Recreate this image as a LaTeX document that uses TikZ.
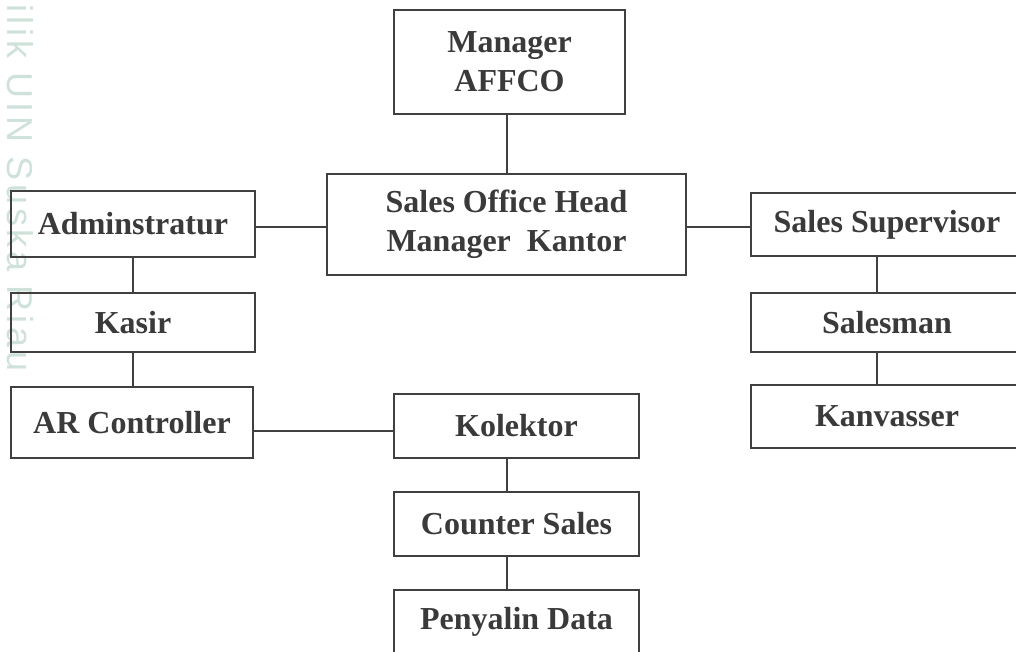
\documentclass[tikz,border=0pt]{standalone}
\usepackage{fontspec}
\setmainfont{Liberation Serif}
\newfontfamily\wmfont[LetterSpace=11]{Liberation Sans}
\definecolor{linecol}{HTML}{404040}
\definecolor{txtcol}{HTML}{3A3A3A}
\definecolor{wmcol}{HTML}{CFE2DA}
\tikzset{
  orgbox/.style={draw=linecol, line width=1pt, text=txtcol,
    font=\bfseries\fontsize{16}{19.5}\selectfont, align=center, inner sep=0pt},
  link/.style={draw=linecol, line width=1pt},
}
\begin{document}
\begin{tikzpicture}[x=0.5pt,y=-0.5pt]
\useasboundingbox (0,0) rectangle (1016,652);
\clip (0,0) rectangle (1016,652);
\fill[white] (0,0) rectangle (1016,652);
% watermark text
\node[rotate=-90, anchor=base west, text=wmcol, font=\wmfont\fontsize{18}{22}\selectfont, inner sep=0pt] (wm) at (7,4) {ilik UIN Suska Riau};
% boxes
\node[orgbox, minimum width=115.5pt, minimum height=52pt] (mgr) at (509.5,62) {Manager\\AFFCO};
\node[orgbox, minimum width=179.5pt, minimum height=50.5pt] (soh) at (506.5,224.5) {Sales Office Head\\Manager\ \ Kantor};
\node[orgbox, minimum width=122pt, minimum height=33pt] (adm) at (133,224) {Adminstratur};
\node[orgbox, minimum width=122pt, minimum height=29.5pt] (kas) at (133,322.5) {Kasir};
\node[orgbox, minimum width=121pt, minimum height=35.5pt] (arc) at (132,422.5) {AR Controller};
\node[orgbox, minimum width=122.5pt, minimum height=32pt] (kol) at (516.5,426) {Kolektor};
\node[orgbox, minimum width=122.5pt, minimum height=32pt] (cs) at (516.5,524) {Counter Sales};
\node[orgbox, minimum width=122.5pt, minimum height=32pt] (pd) at (516.5,622) {Penyalin Data};
\node[orgbox, minimum width=136pt, minimum height=31.5pt] (ss) at (887,224.5) {Sales Supervisor};
\node[orgbox, minimum width=136pt, minimum height=29.5pt] (sm) at (887,322.5) {Salesman};
\node[orgbox, minimum width=136pt, minimum height=31.5pt] (kv) at (887,416.5) {Kanvasser};
% connectors
\draw[link] ([xshift=-1.25pt]mgr.south) -- ([xshift=-1.25pt]mgr.south |- soh.north);
\draw[link] ([yshift=-1.5pt]adm.east) -- ([yshift=-1.5pt]adm.east -| soh.west);
\draw[link] ([yshift=-1.25pt]soh.east) -- ([yshift=-1.25pt]soh.east -| ss.west);
\draw[link] (adm.south) -- (kas.north);
\draw[link] (kas.south) -- (kas.south |- arc.north);
\draw[link] ([yshift=-4pt]arc.east) -- ([yshift=-4pt]arc.east -| kol.west);
\draw[link] (kol.south -| soh.center) -- (cs.north -| soh.center);
\draw[link] (cs.south -| soh.center) -- (pd.north -| soh.center);
\draw[link] ([xshift=-5pt]ss.south) -- ([xshift=-5pt]sm.north);
\draw[link] ([xshift=-5pt]sm.south) -- ([xshift=-5pt]kv.north);
\end{tikzpicture}
\end{document}
